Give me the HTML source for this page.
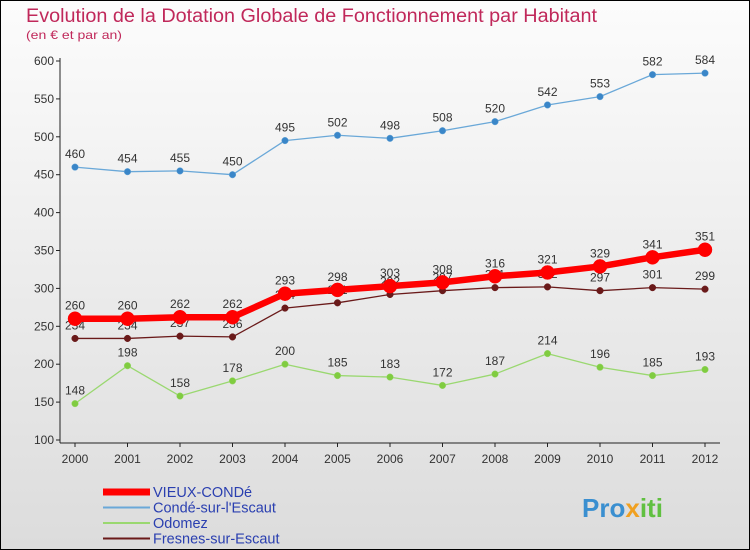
<!DOCTYPE html>
<html><head><meta charset="utf-8"><style>
html,body{margin:0;padding:0}
body{width:750px;height:550px;overflow:hidden;font-family:"Liberation Sans",sans-serif}
</style></head><body>
<svg id="c" width="750" height="550" xmlns="http://www.w3.org/2000/svg" style="display:block">
<defs><linearGradient id="bg" x1="0" y1="0" x2="0" y2="1"><stop offset="0" stop-color="#fcfcfc"/><stop offset="1" stop-color="#dcdcdc"/></linearGradient></defs>
<rect x="0.5" y="0.5" width="749" height="549" fill="url(#bg)" stroke="#000"/>
<text x="26" y="22" font-size="19" fill="#c0285a" textLength="571" lengthAdjust="spacingAndGlyphs">Evolution de la Dotation Globale de Fonctionnement par Habitant</text>
<text x="26" y="39" font-size="12" fill="#c0285a" textLength="96" lengthAdjust="spacingAndGlyphs">(en € et par an)</text>
<g id="axes"></g><g id="series"></g><g id="legend"></g>
<text x="582" y="517" font-size="26" font-weight="bold" fill="#3a8fd0">Pro<tspan fill="#f0a020">x</tspan><tspan fill="#60c040">iti</tspan></text>
</svg>
<script>
const years=[2000,2001,2002,2003,2004,2005,2006,2007,2008,2009,2010,2011,2012];
const yTicks=[100,150,200,250,300,350,400,450,500,550,600];
const vieux=[260,260,262,262,293,298,303,308,316,321,329,341,351];
const conde=[460,454,455,450,495,502,498,508,520,542,553,582,584];
const odomez=[148,198,158,178,200,185,183,172,187,214,196,185,193];
const fresnes=[234,234,237,236,274,281,292,297,301,302,297,301,299];
const NS="http://www.w3.org/2000/svg";
function X(i){return 75+i*(705-75)/(years.length-1);}
function Y(v){return 440-(v-100)*(440-61)/500;}
function mk(t,a,p){const e=document.createElementNS(NS,t);for(const k in a)e.setAttribute(k,a[k]);p.appendChild(e);return e;}
const ax=document.getElementById('axes');
const yl=mk('line',{x1:60,y1:58,x2:60,y2:443,stroke:'#222'},ax);


const xl=mk('line',{x1:60,y1:443,x2:720,y2:443,stroke:'#222'},ax);


yTicks.forEach(v=>{
 mk('line',{x1:56,y1:Y(v),x2:60,y2:Y(v),stroke:'#222'},ax);
 const t=mk('text',{x:54,y:Y(v)+4,'font-size':12,'text-anchor':'end',fill:'#333'},ax);t.textContent=v;
 
 
});
years.forEach((y,i)=>{
 mk('line',{x1:X(i),y1:443,x2:X(i),y2:447,stroke:'#222'},ax);
 const t=mk('text',{x:X(i),y:463,'font-size':12,'text-anchor':'middle',fill:'#333'},ax);t.textContent=y;
 
 
});
const sg=document.getElementById('series');
function draw(name,vals,color,w,r,dot){
 const g=mk('g',{},sg);
 
 
 mk('polyline',{points:vals.map((v,i)=>X(i)+','+Y(v)).join(' '),fill:'none',stroke:color,'stroke-width':w,'stroke-linejoin':'round'},g);
 vals.forEach((v,i)=>{
  const c=mk('circle',{cx:X(i),cy:Y(v),r:r,fill:dot,stroke:color,'stroke-width':0.5},g);
  
  
  const t=mk('text',{x:X(i),y:Y(v)-9,'font-size':12,'text-anchor':'middle',fill:'#333'},g);t.textContent=v;
  
  
 });
}
draw('conde-series',conde,'#6aa8d8',1.3,3.3,'#3a86c8');
draw('odomez-series',odomez,'#9ad870',1.3,3.3,'#80cc40');
draw('fresnes-series',fresnes,'#6a1a1a',1.3,3.3,'#6a1a1a');
draw('vieux-conde-series',vieux,'#ff0000',6.5,7,'#ff0000');
const lg=document.getElementById('legend');
const items=[['VIEUX-CONDé','#ff0000',7],['Condé-sur-l\'Escaut','#6aa8d8',2],['Odomez','#9ad870',2],['Fresnes-sur-Escaut','#6a1a1a',2]];
items.forEach((it,k)=>{
 const y=492+k*15.5;
 const g=mk('g',{},lg);
 
 
 mk('line',{x1:103,y1:y,x2:150,y2:y,stroke:it[1],'stroke-width':it[2]},g);
 const t=mk('text',{x:153,y:y+5,'font-size':14.5,fill:'#2a3fb0'},g);t.textContent=it[0];
});
</script>
</body></html>
